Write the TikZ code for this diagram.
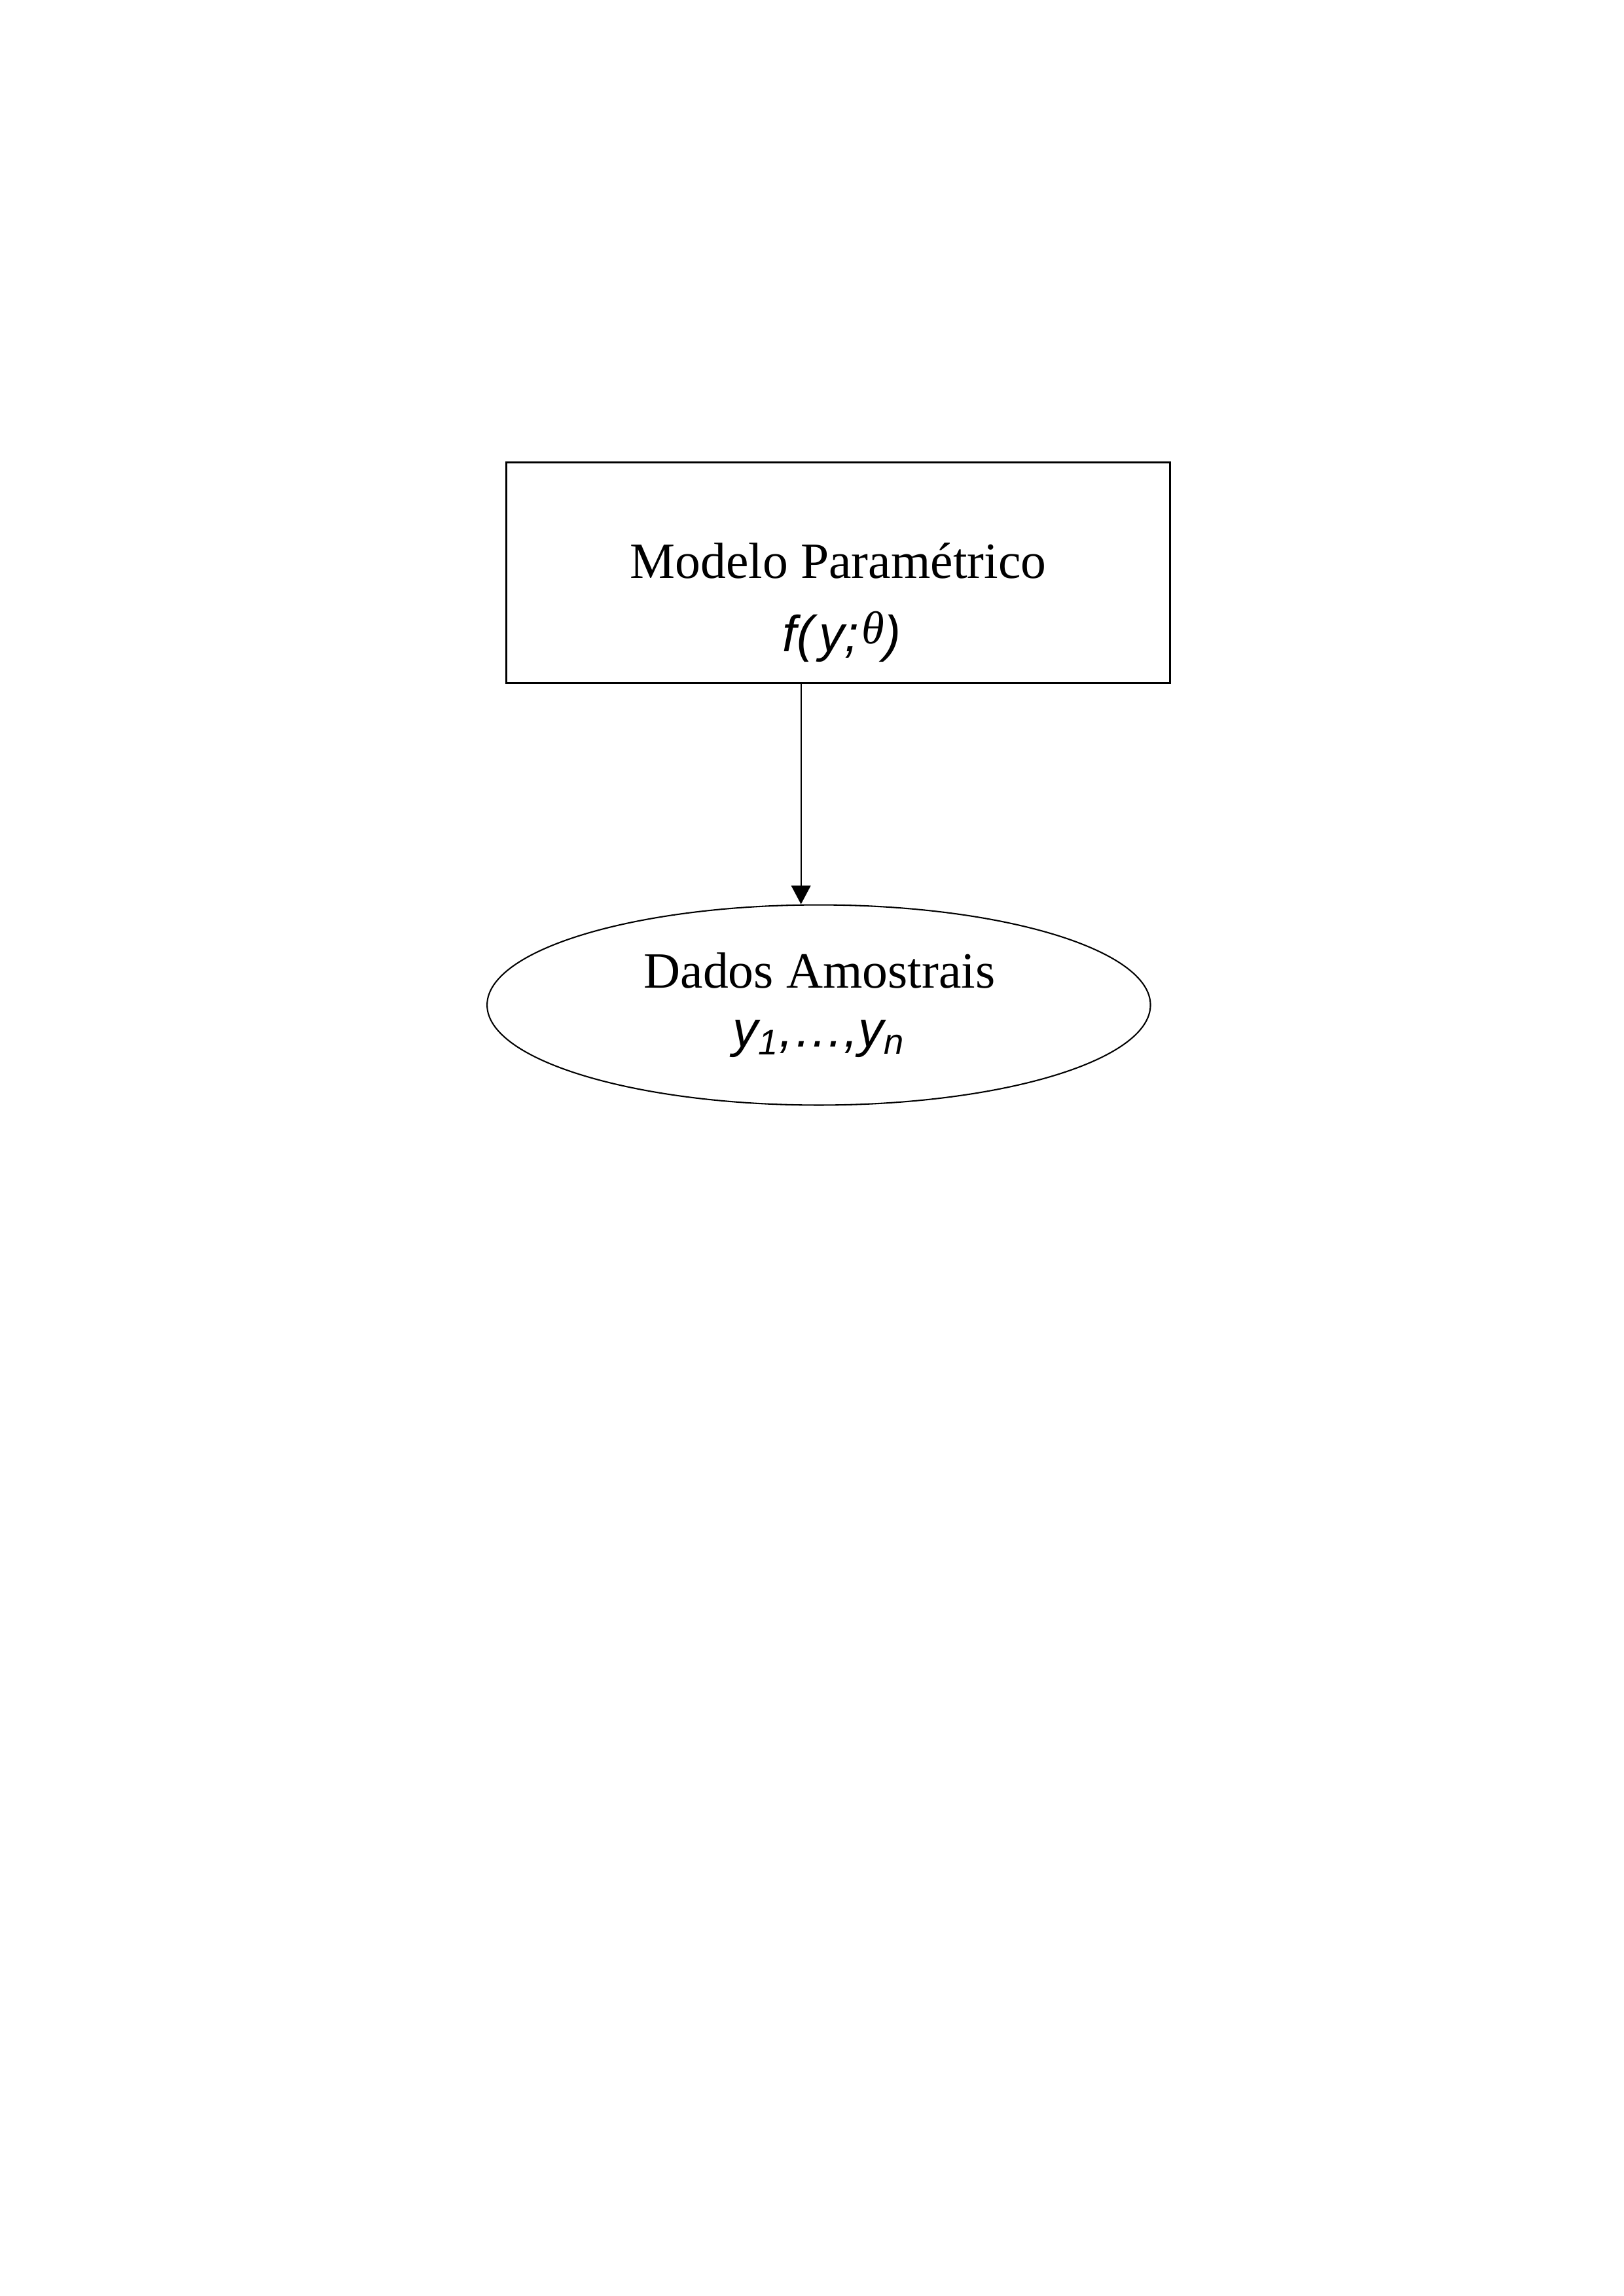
\documentclass[tikz,border=0pt]{standalone}
\usepackage{fontspec}
\setmainfont{Liberation Serif}
\setsansfont{Liberation Sans}
\usetikzlibrary{arrows.meta,shapes.geometric}

\newcommand{\smalltheta}{\raisebox{3pt}{\fontsize{17}{17}\selectfont\rmfamily\itshape θ}}

\tikzset{
  modelbox/.style={draw, line width=0.7pt, minimum width=85.8mm, minimum height=28.5mm, inner sep=0pt},
  dataell/.style={draw, ellipse, line width=0.5pt, minimum width=85.8mm, minimum height=25.9mm, inner sep=0pt},
  lbl/.style={anchor=base, inner sep=0pt, font=\fontsize{18.7}{27}\selectfont},
  mathlbl/.style={lbl, font=\fontsize{18.7}{27}\selectfont\sffamily\itshape},
  flow/.style={line width=0.5pt, -{Triangle[length=2.4mm,width=2.5mm]}}
}

\begin{document}
\begin{tikzpicture}[x=1mm,y=-1mm]
  \useasboundingbox (0,0) rectangle (210,297);
  \fill[white] (0,0) rectangle (210,297);
  % model
  \node[modelbox] (model) at (108.4,74.1) {};
  \node[lbl] (modeltitle) at (108.4,74.8) {Modelo Paramétrico};
  \node[mathlbl] (modelfunc) at (108.9,84.3) {f(\kern2pt y;\kern1pt\smalltheta)};
  % sample data
  \node[dataell] (data) at (105.9,130.0) {};
  \node[lbl] (datatitle) at (106.0,127.8) {Dados Amostrais};
  \node[mathlbl] (datavals) at (105.9,135.4) {y\textsubscript{1},…,y\textsubscript{n}};
  % arrow
  \coordinate (stem) at (103.6,100);
  \draw[flow] (model.south -| stem) -- (data.north -| stem);
\end{tikzpicture}
\end{document}
